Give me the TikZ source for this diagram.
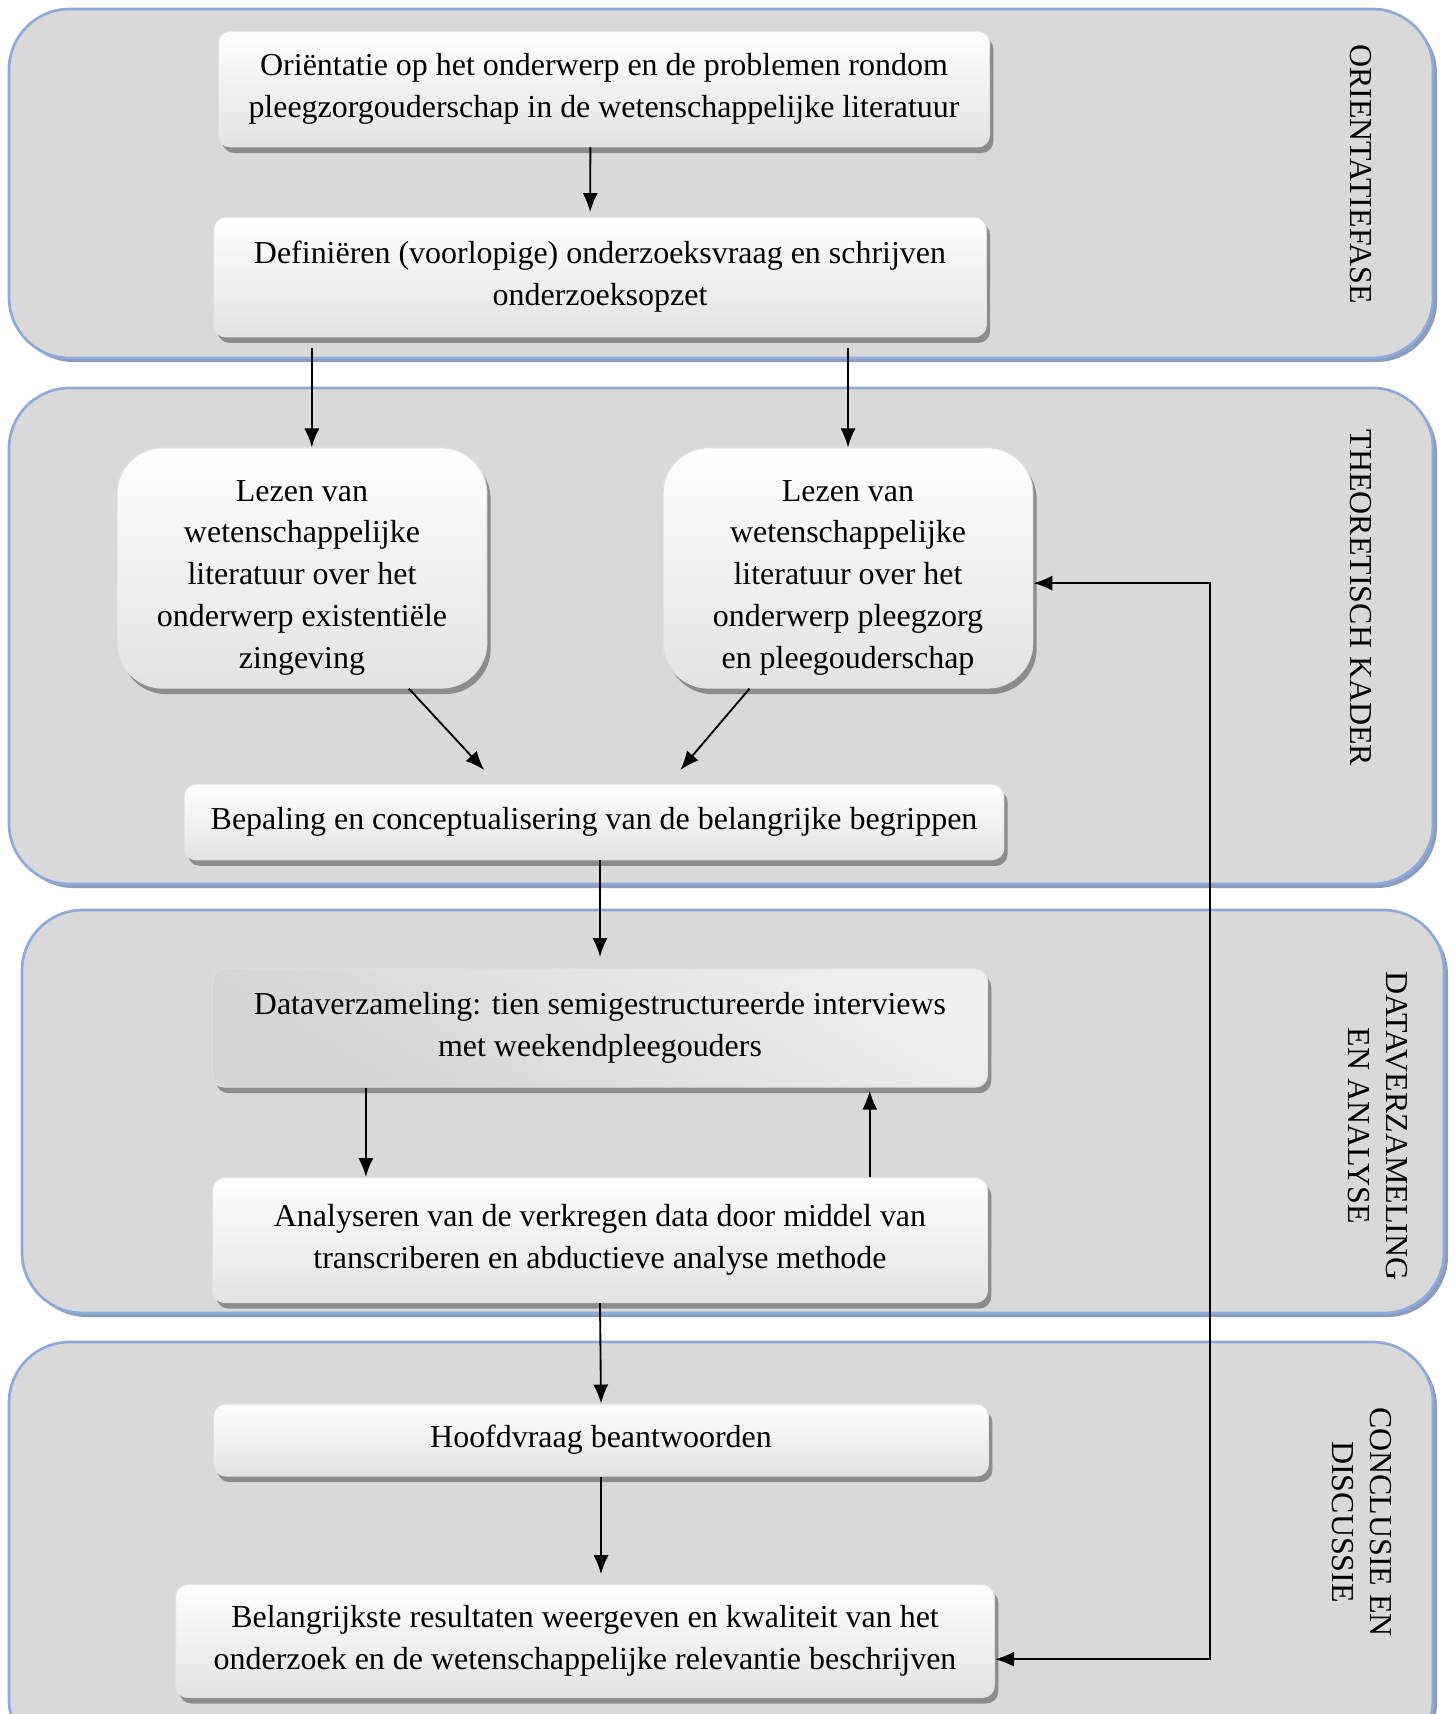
\documentclass[tikz,border=0pt]{standalone}
\usepackage{xcolor}
\usepackage{tikz}
\usepackage{fontspec}
\setmainfont{Liberation Serif}
\usetikzlibrary{shadows,arrows.meta}

\definecolor{fasegrijs}{HTML}{D9D9D9}
\definecolor{faserand}{HTML}{8EAADB}
\definecolor{faseschaduw}{HTML}{8B9DBD}

\begin{document}
\begin{tikzpicture}[x=0.0132cm, y=-0.0132cm, >={Latex[length=0.25cm,width=0.2cm]}]
  \tikzstyle{every node}=[font=\fontsize{12}{15.75}\selectfont, align=center]
  \tikzstyle{stap}=[rectangle, rounded corners=0.16cm, draw=black!12, top color=white, bottom color=black!11,
    drop shadow={shadow xshift=0.05cm, shadow yshift=-0.08cm, fill=black!45, opacity=1}]
  \tikzstyle{lees}=[stap, rounded corners=0.6cm]
  \tikzstyle{fase}=[draw=faserand, line width=1pt, fill=fasegrijs, rounded corners=0.8cm]
  \tikzstyle{faselabel}=[rotate=-90, font=\fontsize{12}{14.3}\selectfont]
  \tikzstyle{pijl}=[->, line width=0.7pt]
  \useasboundingbox (0,0) rectangle (1454,1714);

  % fases
  \fill[faseschaduw, rounded corners=0.8cm] (13,13) rectangle (1437,362);
  \draw[fase] (9,9) rectangle (1433,358);
  \fill[faseschaduw, rounded corners=0.8cm] (13,392) rectangle (1437,888);
  \draw[fase] (9,388) rectangle (1433,884);
  \fill[faseschaduw, rounded corners=0.8cm] (26,914) rectangle (1448,1317);
  \draw[fase] (22,910) rectangle (1444,1313);
  \fill[faseschaduw, rounded corners=0.8cm] (13,1346) rectangle (1437,1764);
  \draw[fase] (9,1342) rectangle (1433,1760);

  \node[faselabel] (Fase1) at (1361,174) {ORIENTATIEFASE};
  \node[faselabel] (Fase2) at (1361,598) {THEORETISCH KADER};
  \node[faselabel] (Fase3) at (1378,1126) {DATAVERZAMELING\\EN ANALYSE};
  \node[faselabel] (Fase4) at (1362,1522) {CONCLUSIE EN\\DISCUSSIE};

  % stappen
  \node[stap, minimum width=10.18cm, minimum height=1.53cm] (Orient) at (604,89)
    {Oriëntatie op het onderwerp en de problemen rondom\\pleegzorgouderschap in de wetenschappelijke literatuur};
  \node[stap, minimum width=10.2cm, minimum height=1.58cm] (Define) at (600,277)
    {Definiëren (voorlopige) onderzoeksvraag en schrijven\\onderzoeksopzet};
  \node[lees, minimum width=4.88cm, minimum height=3.17cm] (LitZin) at (302,568)
    {\rule{0pt}{15.3pt}Lezen van\\wetenschappelijke\\literatuur over het\\onderwerp existentiële\\zingeving};
  \node[lees, minimum width=4.88cm, minimum height=3.17cm] (LitPleeg) at (848,568)
    {\rule{0pt}{15.3pt}Lezen van\\wetenschappelijke\\literatuur over het\\onderwerp pleegzorg\\en pleegouderschap};
  \node[stap, minimum width=10.82cm, minimum height=1.0cm] (Begrip) at (594,822)
    {Bepaling en conceptualisering van de belangrijke begrippen};
  \node[stap, top color=black!6, bottom color=black!17, shading angle=-30, minimum width=10.23cm, minimum height=1.56cm] (Data) at (600,1028)
    {Dataverzameling: tien semigestructureerde interviews\\met weekendpleegouders};
  \node[stap, minimum width=10.23cm, minimum height=1.65cm] (Analyse) at (600,1240)
    {Analyseren van de verkregen data door middel van\\transcriberen en abductieve analyse methode};
  \node[stap, minimum width=10.23cm, minimum height=0.95cm] (Hoofd) at (601,1440)
    {Hoofdvraag beantwoorden};
  \node[stap, minimum width=10.81cm, minimum height=1.49cm] (Result) at (585,1641)
    {Belangrijkste resultaten weergeven en kwaliteit van het\\onderzoek en de wetenschappelijke relevantie beschrijven};

  % pijlen
  \draw[pijl] ([xshift=-0.18cm]Orient.south) -- ([xshift=-0.13cm, yshift=0.06cm]Define.north);
  \draw[pijl, shorten <=0.14cm] ([xshift=0.13cm]LitZin.north |- Define.south) -- ([xshift=0.13cm]LitZin.north);
  \draw[pijl, shorten <=0.14cm] (LitPleeg.north |- Define.south) -- (LitPleeg.north);
  \draw[pijl] ([xshift=1.41cm]LitZin.south) -- ([xshift=-1.45cm, yshift=0.18cm]Begrip.north);
  \draw[pijl] ([xshift=-1.3cm]LitPleeg.south) -- ([xshift=1.14cm, yshift=0.18cm]Begrip.north);
  \draw[pijl, shorten >=0.15cm] (Begrip.south -| Data.north) -- (Data.north);
  \draw[pijl] ([xshift=-3.09cm]Data.south) -- ([xshift=-3.09cm]Analyse.north);
  \draw[pijl] ([xshift=3.56cm]Analyse.north) -- ([xshift=3.56cm, yshift=-0.04cm]Data.south);
  \draw[pijl] (Analyse.south) -- (Hoofd.north);
  \draw[pijl, shorten >=0.13cm] (Hoofd.south) -- (Hoofd.south |- Result.north);
  \coordinate (Terug) at (1210,1100);
  \draw[<->, line width=0.7pt] ([yshift=-0.2cm]LitPleeg.east) -| (Terug) |- ([yshift=-0.24cm]Result.east);
\end{tikzpicture}
\end{document}
